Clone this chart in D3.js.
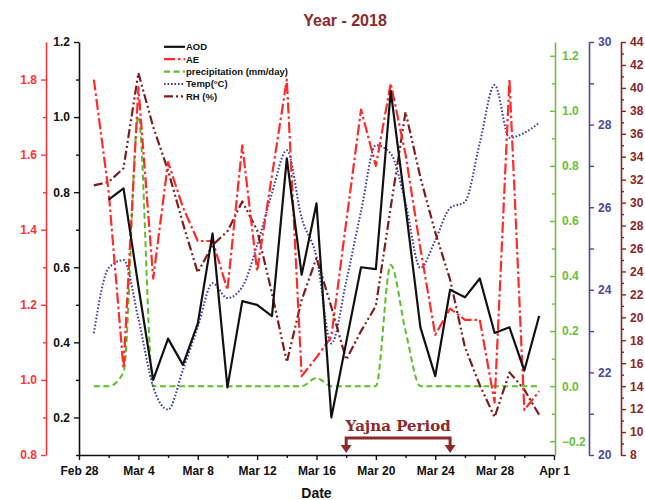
<!DOCTYPE html>
<html><head><meta charset="utf-8">
<script src="https://cdn.jsdelivr.net/npm/d3@7/dist/d3.min.js"></script>
<style>body{margin:0;background:#fff}svg{display:block}</style>
</head><body>
<svg id="c" width="645" height="500"></svg>
<script>
// ---- data ----
const dates = ["2018-03-01","2018-03-02","2018-03-03","2018-03-04","2018-03-05","2018-03-06","2018-03-07","2018-03-08","2018-03-09","2018-03-10",
"2018-03-11","2018-03-12","2018-03-13","2018-03-14","2018-03-15","2018-03-16","2018-03-17","2018-03-18","2018-03-19","2018-03-20",
"2018-03-21","2018-03-22","2018-03-23","2018-03-24","2018-03-25","2018-03-26","2018-03-27","2018-03-28","2018-03-29","2018-03-30","2018-03-31"];
const aod = [null,0.78,0.81,0.55,0.30,0.41,0.34,0.45,0.69,0.28,0.51,0.50,0.47,0.89,0.58,0.77,0.20,0.40,0.60,0.595,1.07,0.76,0.44,0.31,0.54,0.52,0.57,0.425,0.44,0.325,0.47];
const ae = [1.80,1.50,1.03,1.78,1.27,1.58,1.46,1.37,1.37,1.24,1.625,1.29,1.545,1.80,1.01,1.06,1.115,1.42,1.72,1.57,1.79,1.60,1.35,1.12,1.19,1.16,1.16,0.94,1.80,0.92,0.97];
const precip = [0,0,0.05,0.98,0,0,0,0,0,0,0,0,0,0,0,0.03,0,0,0,0,0.44,0.20,0,0,0,0,0,0,0,0,0];
const temp = [22.95,24.53,24.72,23.3,21.65,21.1,22.06,23.1,24.16,23.8,24.07,25.08,26.34,27.38,25.74,24.8,22.7,24.2,25.9,27.5,27.3,26.1,24.53,25.2,25.98,26.13,27.55,28.96,27.68,27.8,28.04];
const rh = [31.5,31.8,33.0,41.3,36.6,32.8,28.2,23.9,26.3,27.5,30.1,27.6,22.1,16.1,21.5,25.2,20.9,16.3,18.8,21.0,29.6,37.9,32.2,27.4,23.3,17.4,14.1,11.3,15.2,13.7,11.5];
const xTickDates = ["2018-02-28","2018-03-04","2018-03-08","2018-03-12","2018-03-16","2018-03-20","2018-03-24","2018-03-28","2018-04-01"];
const xMinorDates = ["2018-03-02","2018-03-06","2018-03-10","2018-03-14","2018-03-18","2018-03-22","2018-03-26","2018-03-30"];
const aodTicks = [0.2,0.4,0.6,0.8,1.0,1.2];
const aeTicks = [0.8,1.0,1.2,1.4,1.6,1.8];
const precipTicks = [-0.2,0,0.2,0.4,0.6,0.8,1.0,1.2];
const tempTicks = [20,22,24,26,28,30];
const rhTicks = [8,10,12,14,16,18,20,22,24,26,28,30,32,34,36,38,40,42,44];
const legendNames = ["AOD","AE","precipitation (mm/day)","Temp(°C)","RH (%)"];
const yajnaStart = "2018-03-18", yajnaEnd = "2018-03-25";

// ---- setup ----
const parse = d3.timeParse("%Y-%m-%d");
const svg = d3.select("#c");
const L = 79, R = 554, T = 42, B = 455;
const FONT = "'Liberation Sans', Arial, sans-serif";
const C = {aod:"#111", ae:"#ff2a2a", pr:"#5cbf2a", t:"#3b3ba8", rh:"#7d1c1c",
           aeAx:"#ff3535", prAx:"#6cbf3c", tAx:"#4a4a9c", rhAx:"#8b2525", title:"#8b2a2a"};

const x = d3.scaleTime().domain([parse("2018-02-28"), parse("2018-04-01")]).range([L, R]);
const yAOD = d3.scaleLinear().domain([0.1,1.2]).range([B,T]);
const yAE = d3.scaleLinear().domain([0.8,1.9]).range([B,T]);
const yP = d3.scaleLinear().domain([-0.25,1.25]).range([B,T]);
const yT = d3.scaleLinear().domain([20,30]).range([B,T]);
const yRH = d3.scaleLinear().domain([8,44]).range([B,T]);

function styleAxis(g, color){
  g.selectAll("path").attr("stroke", color).attr("stroke-width", 1.6);
  g.selectAll("line").attr("stroke", color).attr("stroke-width", 1.4);
  g.selectAll("text").attr("fill", color).attr("font-family", FONT).attr("font-weight","bold").attr("font-size", 12);
}
function minor(gx, axisFn, vals, color){
  const g = svg.append("g").attr("transform", gx).call(axisFn.tickValues(vals).tickFormat("").tickSizeOuter(0));
  g.select("path").remove();
  g.selectAll("line").attr("stroke", color).attr("stroke-width", 1.4);
}
const mids = arr => arr.slice(0,-1).map((v,i)=> +( (v+arr[i+1])/2 ).toFixed(2));

// Title
svg.append("text").attr("x",345).attr("y",26).attr("text-anchor","middle")
  .attr("font-family",FONT).attr("font-weight","bold").attr("font-size",16).attr("fill",C.title).text("Year - 2018");

// X axis
const gx = svg.append("g").attr("transform",`translate(0,${B})`)
  .call(d3.axisBottom(x).tickValues(xTickDates.map(parse)).tickFormat(d3.timeFormat("%b %-d")).tickSize(5).tickSizeOuter(0).tickPadding(6));
styleAxis(gx, "#111");
minor(`translate(0,${B})`, d3.axisBottom(x).tickSize(3), xMinorDates.map(parse), "#111");
svg.append("text").attr("x",(L+R)/2).attr("y",498).attr("text-anchor","middle")
  .attr("font-family",FONT).attr("font-weight","bold").attr("font-size",14).attr("fill","#111").text("Date");

// AOD axis (black)
const gA = svg.append("g").attr("transform",`translate(${L},0)`)
  .call(d3.axisLeft(yAOD).tickValues(aodTicks).tickFormat(d3.format(".1f")).tickSize(5).tickSizeOuter(0).tickPadding(4));
styleAxis(gA, "#111");
minor(`translate(${L},0)`, d3.axisLeft(yAOD).tickSize(3), [0.1,...mids(aodTicks)], "#111");

// AE axis (red)
const gE = svg.append("g").attr("transform",`translate(46,0)`)
  .call(d3.axisLeft(yAE).tickValues(aeTicks).tickFormat(d3.format(".1f")).tickSize(5).tickSizeOuter(0).tickPadding(4));
styleAxis(gE, C.aeAx);
minor(`translate(46,0)`, d3.axisLeft(yAE).tickSize(3), [...mids(aeTicks)], C.aeAx);

// Precip axis (green), ticks inward
const gP = svg.append("g").attr("transform",`translate(555,0)`)
  .call(d3.axisRight(yP).tickValues(precipTicks).tickFormat(d3.format(".1f")).tickSize(-5).tickSizeOuter(0).tickPadding(7));
styleAxis(gP, C.prAx);
minor(`translate(555,0)`, d3.axisRight(yP).tickSize(-3), [...mids(precipTicks)], C.prAx);

// Temp axis (blue)
const gT = svg.append("g").attr("transform",`translate(589,0)`)
  .call(d3.axisRight(yT).tickValues(tempTicks).tickSize(5).tickSizeOuter(0).tickPadding(4));
styleAxis(gT, C.tAx);
minor(`translate(589,0)`, d3.axisRight(yT).tickSize(5), mids(tempTicks), C.tAx);

// RH axis (brown)
const gR = svg.append("g").attr("transform",`translate(621,0)`)
  .call(d3.axisRight(yRH).tickValues(rhTicks).tickSize(5).tickSizeOuter(0).tickPadding(4));
styleAxis(gR, C.rhAx);
minor(`translate(621,0)`, d3.axisRight(yRH).tickSize(3), mids(rhTicks), C.rhAx);

// ---- series ----
const pts = dates.map(parse);
function drawLine(vals, yS, color, dash, curve, w){
  const line = d3.line().defined(d=>d[1]!=null).x(d=>x(d[0])).y(d=>yS(d[1])).curve(curve||d3.curveLinear);
  svg.append("path").datum(pts.map((p,i)=>[p,vals[i]]))
    .attr("d", line).attr("fill","none").attr("stroke",color).attr("stroke-width",w||2)
    .attr("stroke-dasharray",dash).attr("stroke-linejoin","round");
}
const DASH = {aod:null, ae:"11,3,2.5,3", pr:"6,3.5", t:"1.6,1.9", rh:"9,3,2,3,2,3"};
drawLine(precip, yP, C.pr, DASH.pr, d3.curveMonotoneX, 2);
drawLine(temp, yT, C.t, DASH.t, d3.curveMonotoneX, 2);
drawLine(rh, yRH, C.rh, DASH.rh, d3.curveLinear, 2.2);
drawLine(ae, yAE, C.ae, DASH.ae, d3.curveLinear, 2.2);
drawLine(aod, yAOD, C.aod, DASH.aod, d3.curveLinear, 2.2);

// ---- legend ----
const legColors = [C.aod, C.ae, C.pr, C.t, C.rh];
const legDash = [DASH.aod, DASH.ae, DASH.pr, DASH.t, DASH.rh];
legendNames.forEach((n,i)=>{
  const yy = 46.8 + i*12.4;
  svg.append("line").attr("x1",164).attr("x2",185).attr("y1",yy).attr("y2",yy)
    .attr("stroke",legColors[i]).attr("stroke-width",2.2).attr("stroke-dasharray",legDash[i]);
  svg.append("text").attr("x",186).attr("y",yy+3.4).attr("font-family",FONT).attr("font-weight","bold")
    .attr("font-size",9.5).attr("fill","#111").text(n);
});

// ---- Yajna period annotation ----
const xa = x(parse(yajnaStart)), xb = x(parse(yajnaEnd));
svg.append("text").attr("x",(xa+xb)/2).attr("y",431).attr("text-anchor","middle")
  .attr("font-family","'DejaVu Serif', serif").attr("font-weight","bold").attr("font-size",15)
  .attr("fill",C.title).text("Yajna Period");
svg.append("path").attr("d",`M${xa},446 V438 H${xb} V446`).attr("fill","none").attr("stroke",C.title).attr("stroke-width",3);
[xa,xb].forEach(px=>{
  svg.append("path").attr("d",`M${px-5.5},445 L${px+5.5},445 L${px},453 Z`).attr("fill",C.title);
});
</script>
</body></html>
